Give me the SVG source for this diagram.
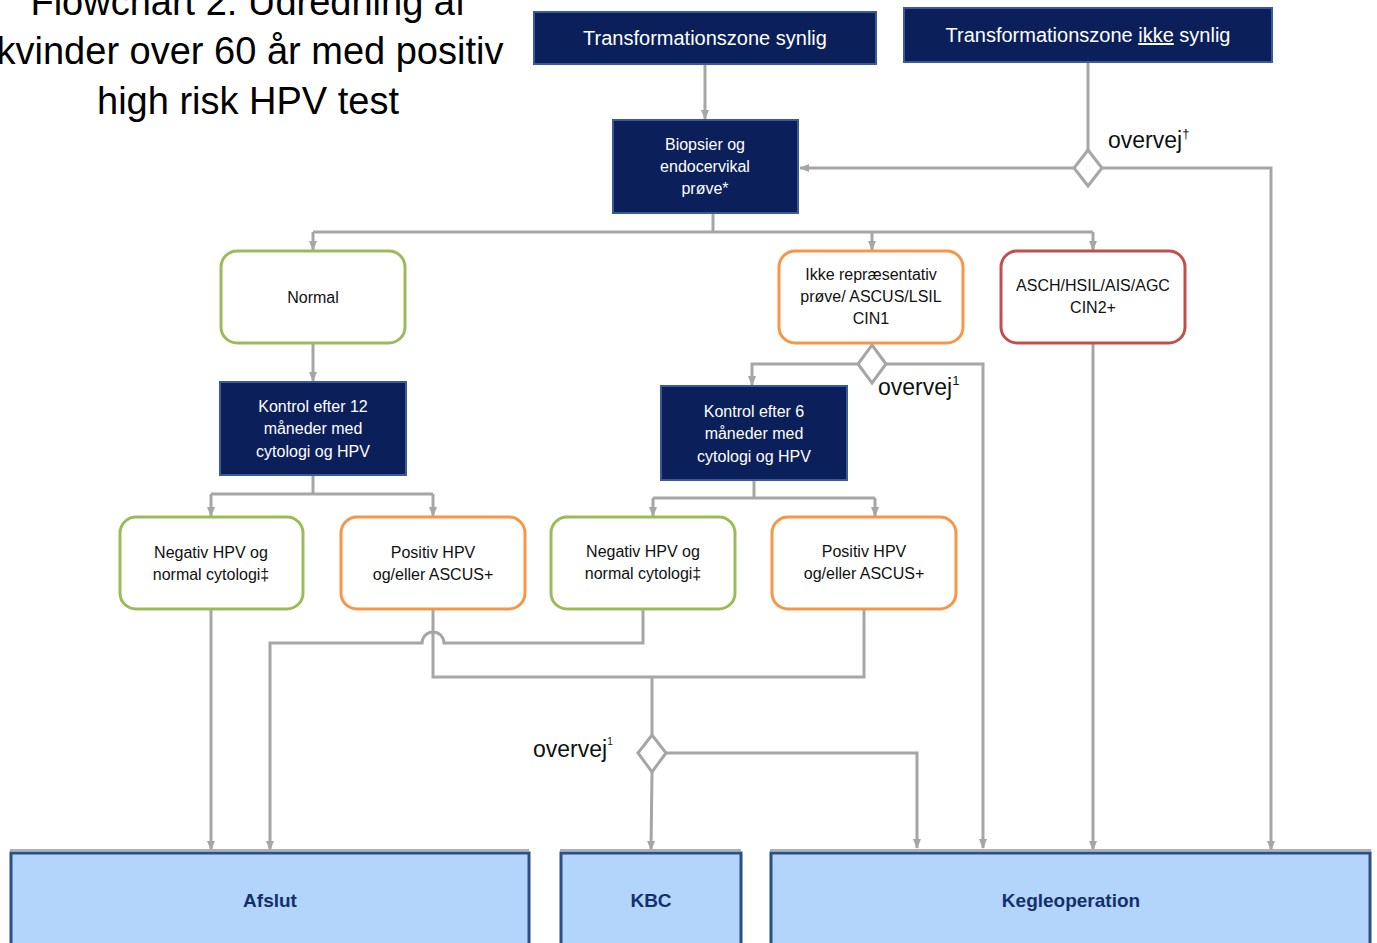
<svg xmlns="http://www.w3.org/2000/svg" width="1377" height="943" viewBox="0 0 1377 943">
<defs>
<marker id="ah" markerWidth="10" markerHeight="10" refX="9" refY="5" orient="auto" markerUnits="userSpaceOnUse">
<path d="M0,1 L10,5 L0,9 Z" fill="#a6a6a6"/>
</marker>
<style>
.t{font-family:"Liberation Sans",Arial,sans-serif;text-anchor:middle}
.title{font-size:38px;fill:#000}
.dark{fill:#0b1f5a;stroke:#3a5a9a;stroke-width:2}
.wt{fill:#fff;font-size:16px}
.wt2{fill:#fff;font-size:20px}
.rb{fill:#fff;stroke-width:3}
.g{stroke:#9bbb59}
.o{stroke:#f79646}
.r{stroke:#c0504d}
.bt{fill:#111;font-size:16px}
.big{fill:#b3d5fc;stroke:#2b4f86;stroke-width:3}
.bl{fill:#13306b;font-size:19px;font-weight:bold}
.c{fill:none;stroke:#a6a6a6;stroke-width:3}
.a{marker-end:url(#ah)}
.dm{fill:#fff;stroke:#a6a6a6;stroke-width:3}
.ov{font-size:23px;fill:#111;text-anchor:start}
</style>
</defs>
<rect width="1377" height="943" fill="#fff"/>
<g id="title">
<text class="t title" x="248" y="15">Flowchart 2: Udredning af</text>
<text class="t title" x="250" y="64">kvinder over 60 år med positiv</text>
<text class="t title" x="248" y="114">high risk HPV test</text>
</g>
<g id="connectors">
<path class="c a" d="M705,64 V119"/>
<path class="c" d="M1088,62 V150"/>
<path class="c a" d="M1074,168 H800"/>
<path class="c a" d="M1102,168 H1271 V850"/>
<path class="c" d="M713,213 V232 M313,232 H1093"/>
<path class="c a" d="M313,232 V250"/>
<path class="c a" d="M872,232 V250"/>
<path class="c a" d="M1093,232 V250"/>
<path class="c a" d="M313,343 V381"/>
<path class="c a" d="M858,364 H752 V385"/>
<path class="c a" d="M886,364 H983 V848"/>
<path class="c a" d="M1093,343 V850"/>
<path class="c" d="M313,475 V494 M211,494 H433"/>
<path class="c a" d="M211,494 V516"/>
<path class="c a" d="M433,494 V516"/>
<path class="c" d="M754,480 V498 M653,498 H875"/>
<path class="c a" d="M653,498 V516"/>
<path class="c a" d="M875,498 V516"/>
<path class="c a" d="M211,609 V850"/>
<path class="c a" d="M643,609 V643 H444 A11,11 0 0 0 422,643 H270 V850"/>
<path class="c" d="M433,609 V677 H864 V609"/>
<path class="c" d="M652,677 V735"/>
<path class="c a" d="M652,772 L651,850"/>
<path class="c a" d="M666,753 H917 V848"/>
</g>
<g id="n_tz_synlig">
<rect class="dark" x="534" y="12" width="342" height="52"/>
<text class="t wt2" x="705" y="45">Transformationszone synlig</text>
</g>
<g id="n_tz_ikke">
<rect class="dark" x="904" y="8" width="368" height="54"/>
<text class="t wt2" x="1088" y="42">Transformationszone <tspan text-decoration="underline">ikke</tspan> synlig</text>
</g>
<g id="n_biopsi">
<rect class="dark" x="613" y="120" width="185" height="93"/>
<text class="t wt" x="705" y="150">Biopsier og</text>
<text class="t wt" x="705" y="172">endocervikal</text>
<text class="t wt" x="705" y="194">prøve*</text>
</g>
<g id="d_top">
<path class="dm" d="M1088,150 L1102,168 L1088,186 L1074,168 Z"/>
<text class="t ov" x="1108" y="148">overvej<tspan font-size="13" dy="-10">†</tspan></text>
</g>
<g id="n_normal">
<rect class="rb g" x="221" y="251" width="184" height="92" rx="16"/>
<text class="t bt" x="313" y="303">Normal</text>
</g>
<g id="n_ikke">
<rect class="rb o" x="779" y="251" width="184" height="92" rx="16"/>
<text class="t bt" x="871" y="280">Ikke repræsentativ</text>
<text class="t bt" x="871" y="302">prøve/ ASCUS/LSIL</text>
<text class="t bt" x="871" y="324">CIN1</text>
</g>
<g id="n_asch">
<rect class="rb r" x="1001" y="251" width="184" height="92" rx="16"/>
<text class="t bt" x="1093" y="291">ASCH/HSIL/AIS/AGC</text>
<text class="t bt" x="1093" y="313">CIN2+</text>
</g>
<g id="d_mid">
<path class="dm" d="M872,345 L886,364 L872,383 L858,364 Z"/>
<text class="t ov" x="878" y="395">overvej<tspan font-size="13" dy="-10">1</tspan></text>
</g>
<g id="n_k12">
<rect class="dark" x="220" y="382" width="186" height="93"/>
<text class="t wt" x="313" y="412">Kontrol efter 12</text>
<text class="t wt" x="313" y="434">måneder med</text>
<text class="t wt" x="313" y="457">cytologi og HPV</text>
</g>
<g id="n_k6">
<rect class="dark" x="661" y="386" width="186" height="94"/>
<text class="t wt" x="754" y="417">Kontrol efter 6</text>
<text class="t wt" x="754" y="439">måneder med</text>
<text class="t wt" x="754" y="462">cytologi og HPV</text>
</g>
<g id="n_neg1">
<rect class="rb g" x="120" y="517" width="183" height="92" rx="16"/>
<text class="t bt" x="211" y="558">Negativ HPV og</text>
<text class="t bt" x="211" y="580">normal cytologi‡</text>
</g>
<g id="n_pos1">
<rect class="rb o" x="341" y="517" width="184" height="92" rx="16"/>
<text class="t bt" x="433" y="558">Positiv HPV</text>
<text class="t bt" x="433" y="580">og/eller ASCUS+</text>
</g>
<g id="n_neg2">
<rect class="rb g" x="551" y="517" width="184" height="92" rx="16"/>
<text class="t bt" x="643" y="557">Negativ HPV og</text>
<text class="t bt" x="643" y="579">normal cytologi‡</text>
</g>
<g id="n_pos2">
<rect class="rb o" x="772" y="517" width="184" height="92" rx="16"/>
<text class="t bt" x="864" y="557">Positiv HPV</text>
<text class="t bt" x="864" y="579">og/eller ASCUS+</text>
</g>
<g id="d_low">
<path class="dm" d="M652,735 L666,753 L652,772 L638,753 Z"/>
<text class="t ov" x="533" y="757">overvej<tspan font-size="10" dy="-12">1</tspan></text>
</g>
<g id="n_afslut">
<line x1="10" y1="850" x2="529" y2="850" stroke="#b0b0b0" stroke-width="2"/>
<rect class="big" x="11" y="853" width="518" height="100"/>
<text class="t bl" x="270" y="907">Afslut</text>
</g>
<g id="n_kbc">
<line x1="560" y1="850" x2="741" y2="850" stroke="#b0b0b0" stroke-width="2"/>
<rect class="big" x="561" y="853" width="180" height="100"/>
<text class="t bl" x="651" y="907">KBC</text>
</g>
<g id="n_kegle">
<line x1="770" y1="850" x2="1371" y2="850" stroke="#b0b0b0" stroke-width="2"/>
<rect class="big" x="771" y="853" width="599" height="100"/>
<text class="t bl" x="1071" y="907">Kegleoperation</text>
</g>
</svg>
